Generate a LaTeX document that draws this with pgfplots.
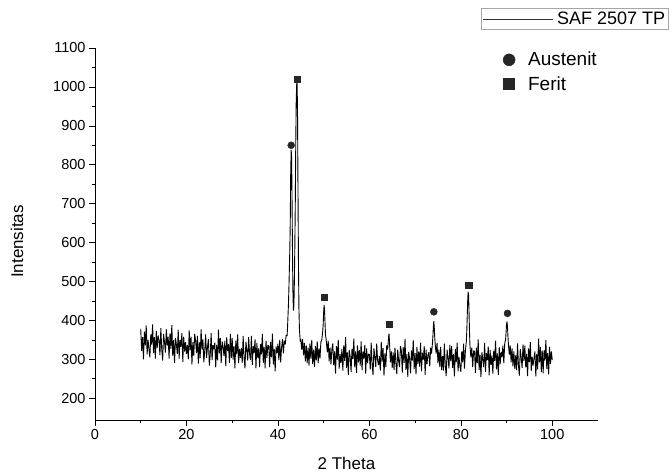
\documentclass[border=0pt]{standalone}
\usepackage{fontspec}
\setmainfont{Liberation Sans}
\usepackage{pgfplots}
\pgfplotsset{compat=1.18}
\begin{document}
\begin{tikzpicture}[x=1pt,y=1pt]
\pgfplotsset{
  base/.style={scale only axis, width=503pt, height=372pt, at={(95pt,55pt)}, anchor=south west,
    xmin=0, xmax=110, ymin=144, ymax=1100}
}
\begin{axis}[base,
  axis lines=left, axis line style={-, line width=0.6pt},
  tick align=outside,
  xtick={0,20,...,100}, ytick={200,300,...,1100},
  minor x tick num=1, minor y tick num=1,
  major tick length=6pt, minor tick length=3pt,
  every tick/.style={black, line width=0.6pt},
  /pgf/number format/assume math mode=true,
  /pgf/number format/1000 sep={},
  ticklabel style={font=\fontsize{14.5}{16}\selectfont},
  xlabel={2 Theta}, ylabel={Intensitas},
  label style={font=\fontsize{17}{19}\selectfont},
  xlabel style={at={(axis description cs:0.5,-0.116)}, anchor=center},
  ylabel style={at={(axis description cs:-0.155,0.48)}, anchor=center},
  legend style={at={(1.141,1.1075)}, anchor=north east, draw=gray!70, line width=0.6pt,
    inner sep=1.5pt, font=\fontsize{18}{20}\selectfont},
  legend cell align=left,
  legend image code/.code={\draw[#1, line width=0.4pt, black!80] (0pt,0pt) -- (70pt,0pt);},
]
\addplot[black, line width=0.9pt, line join=bevel] coordinates {
(10.0,378)(10.2,322)(10.4,357)(10.6,300)(10.8,371)(11.0,336)(11.2,387)(11.4,313)(11.6,350)(11.8,327)
(12.0,305)(12.2,364)(12.4,338)(12.6,390)(12.8,316)(13.0,357)(13.2,302)(13.4,373)(13.6,329)(13.8,361)
(14.0,349)(14.2,311)(14.4,380)(14.6,324)(14.8,297)(15.0,365)(15.2,344)(15.4,317)(15.6,377)(15.8,335)
(16.0,358)(16.2,302)(16.4,367)(16.6,327)(16.8,388)(17.0,309)(17.2,349)(17.4,291)(17.6,355)(17.8,338)
(18.0,314)(18.2,376)(18.4,302)(18.6,350)(18.8,332)(19.0,367)(19.2,293)(19.4,358)(19.6,320)(19.8,344)
(20.0,314)(20.2,337)(20.4,300)(20.6,374)(20.8,323)(21.0,358)(21.2,287)(21.4,344)(21.6,309)(21.8,365)
(22.0,348)(22.2,316)(22.4,360)(22.6,289)(22.8,344)(23.0,303)(23.2,377)(23.4,325)(23.6,351)(23.8,292)
(24.0,322)(24.2,364)(24.4,304)(24.6,331)(24.8,352)(25.0,284)(25.2,311)(25.4,367)(25.6,298)(25.8,336)
(26.0,326)(26.2,343)(26.4,279)(26.6,337)(26.8,297)(27.0,376)(27.2,315)(27.4,355)(27.6,290)(27.8,346)
(28.0,333)(28.2,309)(28.4,347)(28.6,282)(28.8,356)(29.0,321)(29.2,339)(29.4,291)(29.6,365)(29.8,303)
(30.0,355)(30.2,299)(30.4,334)(30.6,277)(30.8,348)(31.0,313)(31.2,364)(31.4,290)(31.6,327)(31.8,304)
(32.0,329)(32.2,291)(32.4,360)(32.6,304)(32.8,277)(33.0,345)(33.2,324)(33.4,297)(33.6,357)(33.8,315)
(34.0,298)(34.2,360)(34.4,286)(34.6,334)(34.8,316)(35.0,351)(35.2,277)(35.4,342)(35.6,304)(35.8,328)
(36.0,280)(36.2,339)(36.4,313)(36.6,365)(36.8,291)(37.0,332)(37.2,277)(37.4,348)(37.6,304)(37.8,336)
(38.0,336)(38.2,280)(38.4,345)(38.6,305)(38.8,366)(39.0,287)(39.2,327)(39.4,269)(39.6,333)(39.8,316)
(40.0,340)(40.2,298)(40.4,350)(40.6,292)(40.8,330)(41.0,352)(41.2,315)(41.4,348)(41.6,338)(41.8,362)
(42.0,360)(42.1,380)(42.2,410)(42.3,440)(42.4,480)(42.5,530)(42.6,580)(42.7,650)(42.8,780)(42.9,838)
(43.0,820)(43.1,700)(43.2,560)(43.3,460)(43.4,425)(43.5,440)(43.6,500)(43.7,590)(43.8,700)(43.9,850)
(44.0,960)(44.1,1005)(44.2,1012)(44.3,920)(44.4,720)(44.5,540)(44.6,430)(44.7,380)(44.8,360)(44.9,345)(45.0,352)
(45.2,325)(45.4,352)(45.6,310)(45.8,342)(46.0,295)(46.2,336)(46.4,290)(46.6,330)(46.8,284)(47.0,340)
(47.2,302)(47.4,350)(47.6,288)(47.8,325)(48.0,280)(48.2,334)(48.4,297)(48.6,346)(48.8,290)(49.0,328)
(49.2,302)(49.4,345)(49.6,350)(49.8,372)(49.9,390)(50.0,420)(50.1,440)(50.2,425)(50.3,395)(50.4,365)
(50.6,345)(50.8,318)(51.0,348)(51.2,295)(51.4,330)(51.6,287)(51.8,325)
(52.0,341)(52.2,285)(52.4,320)(52.6,263)(52.8,334)(53.0,299)(53.2,350)(53.4,276)(53.6,313)(53.8,290)
(54.0,327)(54.2,271)(54.4,336)(54.6,296)(54.8,357)(55.0,278)(55.2,318)(55.4,260)(55.6,324)(55.8,307)
(56.0,268)(56.2,327)(56.4,301)(56.6,353)(56.8,279)(57.0,320)(57.2,265)(57.4,336)(57.6,292)(57.8,324)
(58.0,284)(58.2,346)(58.4,272)(58.6,320)(58.8,302)(59.0,337)(59.2,263)(59.4,328)(59.6,290)(59.8,314)
(60.0,312)(60.2,274)(60.4,343)(60.6,287)(60.8,260)(61.0,328)(61.2,307)(61.4,280)(61.6,340)(61.8,298)
(62.0,285)(62.2,308)(62.4,271)(62.6,345)(62.8,294)(63.0,329)(63.2,258)(63.4,315)(63.6,280)(63.8,336)
(64.0,325)(64.1,340)(64.2,358)(64.3,366)(64.4,345)(64.5,318)(64.6,292)(64.8,320)(65.0,278)
(65.2,318)(65.4,272)(65.6,330)(65.8,290)(66.0,262)(66.2,325)(66.4,296)(66.6,280)(66.8,334)
(67.0,322)(67.2,266)(67.4,331)(67.6,291)(67.8,352)(68.0,273)(68.2,313)(68.4,255)(68.6,319)(68.8,302)
(69.0,264)(69.2,323)(69.4,297)(69.6,349)(69.8,275)(70.0,316)(70.2,261)(70.4,332)(70.6,288)(70.8,320)
(71.0,281)(71.2,343)(71.4,269)(71.6,317)(71.8,299)(72.0,334)(72.2,260)(72.4,325)(72.6,287)(72.8,311)
(73.0,318)(73.2,282)(73.4,330)(73.6,315)(73.8,342)(73.9,360)(74.0,385)(74.1,398)(74.2,380)(74.3,355)
(74.4,338)(74.6,315)(74.8,342)(75.0,290)(75.2,325)(75.4,280)(75.6,332)(75.8,272)
(76.0,309)(76.2,271)(76.4,340)(76.6,284)(76.8,257)(77.0,325)(77.2,304)(77.4,277)(77.6,337)(77.8,295)
(78.0,334)(78.2,278)(78.4,313)(78.6,256)(78.8,327)(79.0,292)(79.2,343)(79.4,269)(79.6,306)(79.8,283)
(80.0,268)(80.2,320)(80.4,292)(80.6,340)(80.8,276)(81.0,322)(81.2,345)(81.3,370)(81.4,410)(81.5,450)
(81.6,474)(81.7,465)(81.8,420)(81.9,370)(82.0,335)(82.2,305)(82.4,330)(82.6,280)(82.8,322)
(83.0,321)(83.2,265)(83.4,330)(83.6,290)(83.8,351)(84.0,272)(84.2,312)(84.4,254)(84.6,318)(84.8,301)
(85.0,280)(85.2,342)(85.4,268)(85.6,316)(85.8,298)(86.0,333)(86.2,259)(86.4,324)(86.6,286)(86.8,310)
(87.0,263)(87.2,322)(87.4,296)(87.6,348)(87.8,274)(88.0,315)(88.2,260)(88.4,331)(88.6,287)(88.8,319)
(89.0,305)(89.2,335)(89.4,290)(89.6,340)(89.8,352)(89.9,370)(90.0,390)(90.1,397)(90.2,385)(90.3,360)
(90.4,340)(90.6,312)(90.8,336)(91.0,292)(91.2,328)(91.4,282)(91.6,320)(91.8,275)
(92.0,310)(92.2,272)(92.4,341)(92.6,285)(92.8,258)(93.0,326)(93.2,305)(93.4,278)(93.6,338)(93.8,296)
(94.0,335)(94.2,279)(94.4,314)(94.6,257)(94.8,328)(95.0,293)(95.2,344)(95.4,270)(95.6,307)(95.8,284)
(96.0,303)(96.2,320)(96.4,256)(96.6,314)(96.8,274)(97.0,353)(97.2,292)(97.4,332)(97.6,267)(97.8,323)
(98.0,264)(98.2,323)(98.4,297)(98.6,349)(98.8,275)(99.0,316)(99.2,261)(99.4,332)(99.6,288)(99.8,320)(100.0,298)
};
\addlegendentry{\hspace{2pt}SAF 2507 TP}
\end{axis}
\begin{axis}[base, hide axis,
  legend style={at={(0.805,1.0)}, anchor=north west, draw=none, fill=none,
    font=\fontsize{19}{21}\selectfont, row sep=5pt},
  legend cell align=left,
]
\addplot[only marks, mark=*, mark size=3.5pt, black!85, forget plot] coordinates {(42.9,850)(74.1,422)(90.2,418)};
\addplot[only marks, mark=square*, mark size=3.3pt, black!85, forget plot] coordinates {(44.2,1020)(50.1,460)(64.3,390)(81.7,490)};
\addlegendimage{only marks, mark=*, mark size=6pt, black!85}
\addlegendentry{\hspace{11pt}Austenit}
\addlegendimage{only marks, mark=square*, mark size=5.5pt, black!85}
\addlegendentry{\hspace{11pt}Ferit}
\end{axis}
\pgfresetboundingbox
\path[use as bounding box] (0,0) rectangle (672,475);
\end{tikzpicture}
\end{document}
